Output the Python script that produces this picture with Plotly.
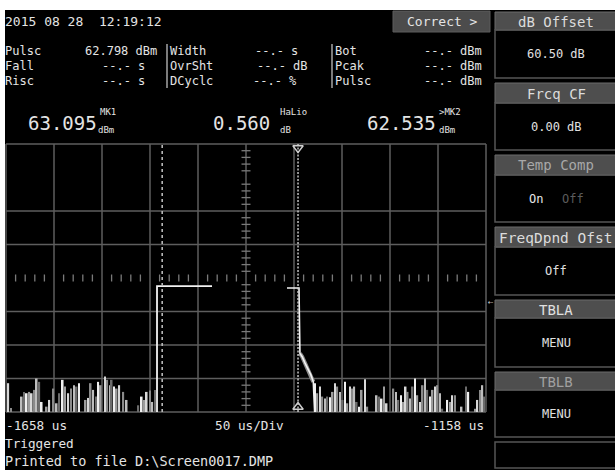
import plotly.graph_objects as go

# ---------------------------------------------------------------- readings
timestamp = "2015 08 28  12:19:12"
pulse_dbm = 62.798
mk1_dbm = 63.095
mk2_dbm = 62.535
ratio_db = 0.560
db_offset = 60.50
freq_cf = 0.00

# ---------------------------------------------------------------- sweep setup
t_start = -1658          # us at left graticule edge
t_stop = -1158           # us at right graticule edge
us_per_div = 50
ref_top = 105.5          # dBm at top graticule line
db_per_div = 10
n_ydiv = 8
floor_dbm = ref_top - db_per_div * n_ydiv

mk1_t = -1495.3
mk2_t = -1353.8

# pulse envelope (us, dBm)
rise_t = [-1500.7, -1500.7, -1443.4]
rise_v = [25.5, 63.095, 63.095]
fall_t = [-1365.3, -1352.8, -1351.8, -1349.5, -1346.5, -1343.1, -1340.3, -1337.9, -1336.5]
fall_v = [62.535, 62.535, 43.0, 42.0, 40.1, 38.1, 36.5, 34.5, 25.5]

# noise samples before and after the pulse (us, dBm)
noise_t = [-1655.6, -1652.8, -1641.6, -1639.3, -1636.4, -1633.7, -1631.2, -1628.5, -1626.0, -1623.3,
           -1620.8, -1615.6, -1612.9, -1608.7, -1605.2, -1602.5, -1598.9, -1596.5, -1593.1, -1590.3,
           -1587.2, -1584.4, -1582.0, -1575.0, -1572.3, -1569.8, -1567.1, -1564.2, -1561.9, -1559.4,
           -1554.9, -1552.5, -1549.7, -1547.9, -1545.5, -1542.7, -1540.0, -1535.8, -1532.3, -1520.2,
           -1516.6, -1514.2, -1511.4, -1508.0, -1505.6, -1502.8,
           -1336.1, -1333.7, -1330.9, -1328.5, -1325.7, -1323.3, -1320.5, -1317.7, -1315.3, -1312.9,
           -1310.1, -1307.3, -1304.9, -1302.4, -1299.7, -1297.2, -1295.2, -1292.7, -1290.3, -1287.5,
           -1284.1, -1281.6, -1271.9, -1269.1, -1266.7, -1264.3, -1261.5, -1254.5, -1251.8, -1249.3,
           -1246.5, -1244.1, -1241.7, -1239.6, -1237.2, -1234.4, -1232.0, -1229.5, -1226.8, -1224.0,
           -1221.6, -1219.1, -1216.4, -1213.6, -1211.2, -1208.7, -1205.9, -1203.5, -1198.3, -1195.5,
           -1193.1, -1190.3, -1183.4, -1178.8, -1176.4, -1169.5, -1167.0, -1164.3, -1161.8, -1159.8]
noise_v = [34.1, 26.7, 30.1, 31.5, 31.1, 31.5, 31.1, 32.1, 35.5, 34.5,
           28.5, 27.1, 29.1, 32.5, 28.1, 31.1, 35.1, 33.1, 31.1, 32.5,
           33.5, 33.1, 34.1, 29.1, 29.7, 34.1, 32.1, 30.1, 34.5, 33.5,
           36.1, 35.1, 33.5, 35.1, 33.1, 32.5, 33.5, 31.5, 29.1, 27.5,
           30.1, 29.1, 31.5, 31.9, 28.5, 32.1,
           34.1, 31.1, 33.1, 30.1, 29.5, 30.1, 29.9, 31.5, 34.1, 33.1,
           31.5, 29.1, 34.5, 28.1, 33.1, 32.5, 33.1, 28.5, 27.1, 32.1,
           35.3, 27.1, 30.5, 30.1, 29.5, 33.1, 28.1, 32.5, 31.5, 29.1,
           30.5, 28.5, 33.1, 31.5, 29.5, 33.1, 35.5, 30.5, 28.5, 33.5,
           35.5, 32.1, 30.1, 32.1, 33.1, 33.5, 31.1, 26.5, 29.1, 28.5,
           30.5, 30.5, 27.1, 33.1, 31.5, 26.5, 29.1, 32.1, 33.5, 30.1]

# measurement table
row_names_a = ["Pulsc", "Fall", "Risc"]
row_vals_a = [f"{pulse_dbm:.3f} dBm", "--.- s", "--.- s"]
row_names_b = ["Width", "OvrSht", "DCyclc"]
row_vals_b = ["--.- s", "--.- dB", "--.- %"]
row_names_c = ["Bot", "Pcak", "Pulsc"]
row_vals_c = ["--.- dBm", "--.- dBm", "--.- dBm"]

# soft-key menu
menu_titles = ["dB Offset", "Frcq CF", "Temp Comp", "FreqDpnd Ofst", "TBLA", "TBLB"]
menu_values = [f"{db_offset:.2f} dB", f"{freq_cf:.2f} dB", "", "Off", "MENU", "MENU"]

# ---------------------------------------------------------------- page geometry
W, H = 615, 470
MONO = "DejaVu Sans Mono"
TXT = "#e4e4e4"
GRID = "#5e5e5e"
gx0, gx1, gy0, gy1 = 6, 486, 144, 412          # graticule box in px
px_per_us = (gx1 - gx0) / (t_stop - t_start)
px_per_db = (gy1 - gy0) / (ref_top - floor_dbm)
pad = 3


def fx(x):
    return x / W


def fy(y):
    return 1 - y / H


fig = go.Figure()

# noise bars
shades = ["#d8d8d8", "#8a8a8a", "#bdbdbd", "#6c6c6c", "#f0f0f0", "#9c9c9c"]
fig.add_trace(go.Bar(
    x=noise_t, y=[v - floor_dbm for v in noise_v], base=floor_dbm, width=1.7,
    marker=dict(color=[shades[i % len(shades)] for i in range(len(noise_t))], line=dict(width=0)),
    hoverinfo="skip", showlegend=False))

# falling-edge tail: grey smear under the trace
fig.add_trace(go.Scatter(x=fall_t[2:-1], y=fall_v[2:-1], mode="lines",
                         line=dict(color="#8e8e8e", width=4),
                         hoverinfo="skip", showlegend=False))
# pulse envelope
fig.add_trace(go.Scatter(x=rise_t, y=rise_v, mode="lines",
                         line=dict(color="#f2f2f2", width=1.8), hoverinfo="skip", showlegend=False))
fig.add_trace(go.Scatter(x=fall_t, y=fall_v, mode="lines",
                         line=dict(color="#f2f2f2", width=1.6), hoverinfo="skip", showlegend=False))

# centre-axis minor ticks
t_mid = (t_start + t_stop) / 2
y_mid = (ref_top + floor_dbm) / 2
tick_x, tick_y = [], []
for j in range(n_ydiv * 5 + 1):
    if j % 5:
        v = ref_top - j * db_per_div / 5
        tick_x += [t_mid - 4.5 / px_per_us, t_mid + 4.5 / px_per_us, None]
        tick_y += [v, v, None]
n_xdiv = round((t_stop - t_start) / us_per_div)
for k in range(n_xdiv * 5 + 1):
    if k % 5:
        t = t_start + k * us_per_div / 5
        tick_x += [t, t, None]
        tick_y += [y_mid - 3.5 / px_per_db, y_mid + 3.5 / px_per_db, None]
fig.add_trace(go.Scatter(x=tick_x, y=tick_y, mode="lines",
                         line=dict(color="#7a7a7a", width=1.3), hoverinfo="skip", showlegend=False))

# markers
fig.add_trace(go.Scatter(x=[mk1_t, mk1_t], y=[floor_dbm, ref_top], mode="lines",
                         line=dict(color="#b8b8b8", width=1.6, dash="3px,3px"),
                         hoverinfo="skip", showlegend=False))
fig.add_trace(go.Scatter(x=[mk2_t, mk2_t], y=[floor_dbm, ref_top], mode="lines",
                         line=dict(color="#d0d0d0", width=1.4, dash="2px,1.5px"),
                         hoverinfo="skip", showlegend=False))
fig.add_trace(go.Scatter(x=[mk2_t, mk2_t], y=[ref_top - 4 / px_per_db, floor_dbm + 5 / px_per_db],
                         mode="markers", cliponaxis=False,
                         marker=dict(symbol=["triangle-down-open", "triangle-up-open"], size=9,
                                     color="#cfcfcf", line=dict(width=1.4)),
                         hoverinfo="skip", showlegend=False))

shapes = []
# white frame strips
shapes.append(dict(type="rect", xref="paper", yref="paper", x0=0, x1=1, y0=fy(10), y1=1,
                   fillcolor="white", line=dict(width=0), layer="below"))
shapes.append(dict(type="rect", xref="paper", yref="paper", x0=0, x1=fx(5), y0=0, y1=1,
                   fillcolor="white", line=dict(width=0), layer="below"))

# graticule
for k in range(n_xdiv + 1):
    t = t_start + k * us_per_div
    shapes.append(dict(type="line", xref="x", yref="y", x0=t, x1=t, y0=floor_dbm, y1=ref_top,
                       line=dict(color=GRID, width=1.5), layer="below"))
for j in [0, 2, 3, 5, 6, 7, 8]:
    v = ref_top - j * db_per_div
    shapes.append(dict(type="line", xref="x", yref="y", x0=t_start, x1=t_stop, y0=v, y1=v,
                       line=dict(color=GRID, width=1.5), layer="below"))

# table separators
for xs in (167, 332):
    shapes.append(dict(type="line", xref="paper", yref="paper", x0=fx(xs), x1=fx(xs),
                       y0=fy(44), y1=fy(88), line=dict(color="#cfcfcf", width=1.2)))

# "Correct >" tab
shapes.append(dict(type="rect", xref="paper", yref="paper", x0=fx(393), x1=fx(490),
                   y0=fy(32), y1=fy(11), fillcolor="#4c4c4c", line=dict(color="#5c5c5c", width=1)))

# soft-key menu boxes
menu_rows = [(12, 30, 78), (83, 103, 150), (155, 175, 222), (227, 247, 295), (300, 318, 367), (372, 390, 437)]
for (h0, h1, b1) in menu_rows:
    shapes.append(dict(type="rect", xref="paper", yref="paper", x0=fx(495), x1=fx(617),
                       y0=fy(h1), y1=fy(h0), fillcolor="#4e4e4e", line=dict(color="#6a6a6a", width=1)))
    shapes.append(dict(type="rect", xref="paper", yref="paper", x0=fx(495), x1=fx(617),
                       y0=fy(b1), y1=fy(h1), fillcolor="rgba(0,0,0,0)", line=dict(color="#555555", width=1.5)))
shapes.append(dict(type="rect", xref="paper", yref="paper", x0=fx(495), x1=fx(617),
                   y0=fy(468), y1=fy(442), fillcolor="rgba(0,0,0,0)", line=dict(color="#555555", width=1.5)))

ann = []


def label(x, y, text, size=13, color=TXT, anchor="left"):
    ann.append(dict(x=fx(x), y=fy(y), xref="paper", yref="paper", text=text, showarrow=False,
                    xanchor=anchor, yanchor="middle", borderpad=0,
                    font=dict(family=MONO, size=size, color=color)))


label(4, 21, timestamp)
label(442, 21, "Correct &gt;", size=13, anchor="center")

rows_y = [51, 66, 81]
val_a_end = [158, 146, 146]
val_b_end = [299, 309, 298]
RS = 12
for i, y in enumerate(rows_y):
    label(4, y, row_names_a[i], size=RS)
    label(val_a_end[i], y, row_vals_a[i], size=RS, anchor="right")
    label(169, y, row_names_b[i], size=RS)
    label(val_b_end[i], y, row_vals_b[i], size=RS, anchor="right")
    label(334, y, row_names_c[i], size=RS)
    label(483, y, row_vals_c[i], size=RS, anchor="right")

# large readouts
label(27, 123, f"{mk1_dbm:.3f}", size=19)
label(97, 130, "dBm", size=9)
label(99, 112, "MK1", size=9)
label(212, 123, f"{ratio_db:.3f}", size=19)
label(279, 130, "dB", size=9)
label(279, 112, "HaLio", size=9)
label(366, 123, f"{mk2_dbm:.3f}", size=19)
label(438, 130, "dBm", size=9)
label(438, 112, "&gt;MK2", size=9)

# soft-key text
title_colors = ["#dcdcdc", "#dcdcdc", "#a8a8a8", "#dcdcdc", "#e0e0e0", "#a0a0a0"]
for i, (h0, h1, b1) in enumerate(menu_rows):
    label(556, (h0 + h1) / 2 + 0.5, menu_titles[i], size=14 if i != 3 else 14.5,
          color=title_colors[i], anchor="center")
    if menu_values[i]:
        label(556, (h1 + b1) / 2, menu_values[i], size=12, color="#e0e0e0", anchor="center")
label(536, 199, "On", size=12, color="#e8e8e8", anchor="center")
label(573, 199, "Off", size=12, color="#5c5c5c", anchor="center")

# side pointer
label(490, 302, "⇠", size=9, color="#bbbbbb", anchor="center")

# time-base annotations
label(5, 425, f"{t_start} us", size=12.7)
label(249, 425, f"{us_per_div} us/Div", size=12.7, anchor="center")
label(485, 425, f"{t_stop} us", size=12.7, anchor="right")
label(4, 443, "Triggered", size=12.7)
label(4, 461, r"Printed to file D:\Screen0017.DMP", size=13.5)

fig.update_layout(
    width=W, height=H,
    margin=dict(l=0, r=0, t=0, b=0),
    paper_bgcolor="black", plot_bgcolor="black",
    barmode="overlay",
    showlegend=False,
    xaxis=dict(domain=[fx(gx0 - pad), fx(gx1 + pad)],
               range=[t_start - pad / px_per_us, t_stop + pad / px_per_us],
               visible=False, fixedrange=True),
    yaxis=dict(domain=[fy(gy1 + pad), fy(gy0 - pad)],
               range=[floor_dbm - pad / px_per_db, ref_top + pad / px_per_db],
               visible=False, fixedrange=True),
    shapes=shapes,
    annotations=ann,
)

fig.write_html("out.html")
